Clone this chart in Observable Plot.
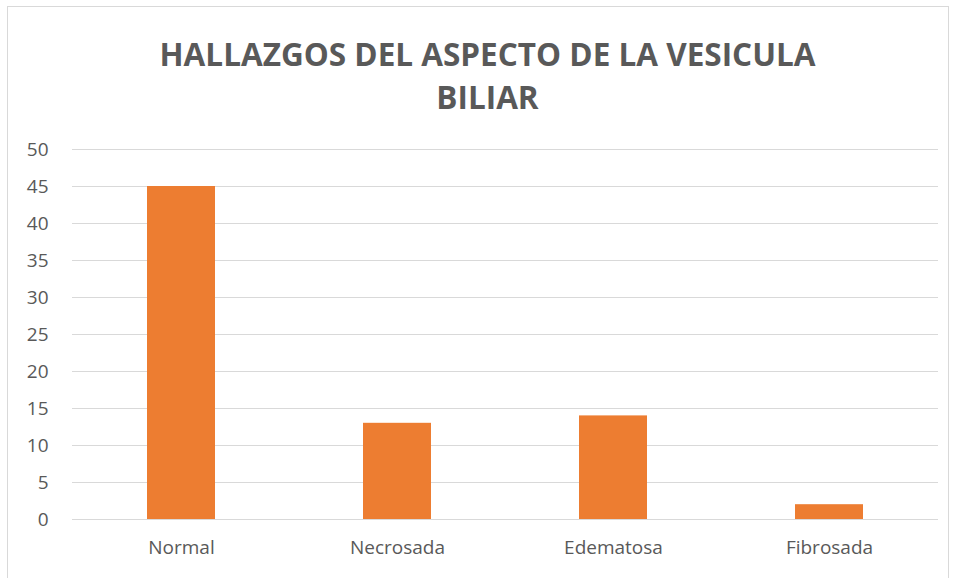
<!DOCTYPE html>
<html>
<head>
<meta charset="utf-8">
<script src="https://cdn.jsdelivr.net/npm/d3@7"></script>
<script src="https://cdn.jsdelivr.net/npm/@observablehq/plot@0.6"></script>
<style>
  html, body { margin: 0; padding: 0; background: #fff; }
  #wrap { position: relative; width: 955px; height: 578px; overflow: hidden; }
  #frame { position: absolute; left: 7px; top: 6px; width: 942px; height: 600px; border: 1px solid #d9d9d9; box-sizing: border-box; pointer-events: none; }
  #title { height: 120px; box-sizing: border-box; padding-top: 32px; padding-left: 20px; text-align: center; font-family: "Open Sans", sans-serif; font-weight: 700; font-size: 31.5px; line-height: 43px; color: #595959; }
  svg { display: block; overflow: visible; }
</style>
</head>
<body>
<div id="wrap">
  <div id="frame"></div>
  <div id="title">HALLAZGOS DEL ASPECTO DE LA VESICULA<br>BILIAR</div>
  <div id="chart"></div>
</div>
<script>
const categories = ["Normal", "Necrosada", "Edematosa", "Fibrosada"];
const values = [45, 13, 14, 2];
const yTicks = [0, 5, 10, 15, 20, 25, 30, 35, 40, 45, 50];

const data = categories.map((c, i) => ({category: c, value: values[i]}));

const chart = Plot.plot({
  width: 955,
  height: 458,
  marginLeft: 72,
  marginRight: 17,
  marginTop: 29,
  marginBottom: 59,
  style: {fontFamily: "'Open Sans', sans-serif", fontSize: "19px", color: "#595959", background: "transparent"},
  x: {domain: categories, paddingInner: 0.686, paddingOuter: 0.343, label: null},
  y: {domain: [0, 50], label: null},
  marks: [
    Plot.gridY(yTicks, {stroke: "#d9d9d9", strokeOpacity: 1, strokeWidth: 1}),
    Plot.barY(data, {x: "category", y: "value", fill: "#ED7D31"}),
    Plot.axisY(yTicks, {tickSize: 0, tickPadding: 24, fill: "#595959", fontSize: 19}),
    Plot.axisX({tickSize: 0, tickPadding: 21, fill: "#595959", fontSize: 19})
  ]
});
document.getElementById("chart").appendChild(chart);
</script>
</body>
</html>
